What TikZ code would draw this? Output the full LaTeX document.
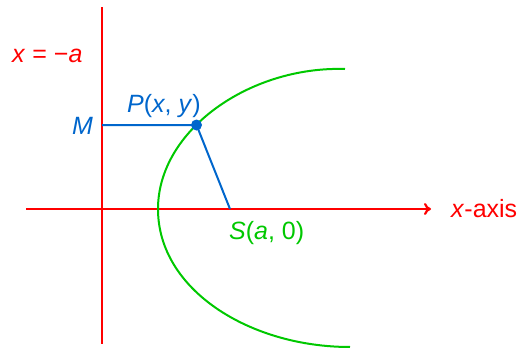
\documentclass[tikz,border=0pt]{standalone}
\usepackage{fontspec}
\setmainfont{Liberation Sans}
\usetikzlibrary{arrows.meta}
\definecolor{dirred}{HTML}{FF0000}
\definecolor{ptblue}{HTML}{0066CC}
\definecolor{curvegreen}{HTML}{00C800}

\tikzset{
  lbl/.style={font=\fontsize{25}{29}\selectfont, inner sep=0pt, anchor=base west},
  redline/.style={draw=dirred, line width=2.2pt},
  blueline/.style={draw=ptblue, line width=2pt},
}

\begin{document}
\begin{tikzpicture}[x=1pt, y=-1pt]
    \useasboundingbox (0,0) rectangle (523,348);
    \coordinate (dtop) at (102,7);
    \coordinate (dbot) at (102,344);
    \coordinate (axstart) at (26,209);
    \coordinate (axend) at (431,209);
    \coordinate (S) at (230,209);
    \coordinate (M) at (102,125);
    \coordinate (P) at (196.5,125);
    \draw[redline] (dtop) -- (dbot);
    \draw[redline, -{To[length=7pt, width=12pt]}] (axstart) -- (axend);
    \draw[curvegreen, line width=2pt] (345,69) .. controls (250,66) and (158,130) .. (158,209)
      .. controls (158,290) and (250,347) .. (350,347);
    \draw[blueline] (M) -- (P) -- (S);
    \fill[ptblue] (P) circle (5.5);
    \node[lbl, text=dirred] (dlabel) at (12,63) {\textit{x} = −\textit{a}};
    \node[lbl, text=dirred] (axlabel) at (451,217) {\textit{x}-axis};
    \node[lbl, text=ptblue] (Mlabel) at (72,134) {\textit{M}};
    \node[lbl, text=ptblue] (Plabel) at (127,112) {\textit{P}(\textit{x}, \textit{y})};
    \node[lbl, text=curvegreen] (Slabel) at (229,239) {\textit{S}(\textit{a}, 0)};
  \end{tikzpicture}
\end{document}
